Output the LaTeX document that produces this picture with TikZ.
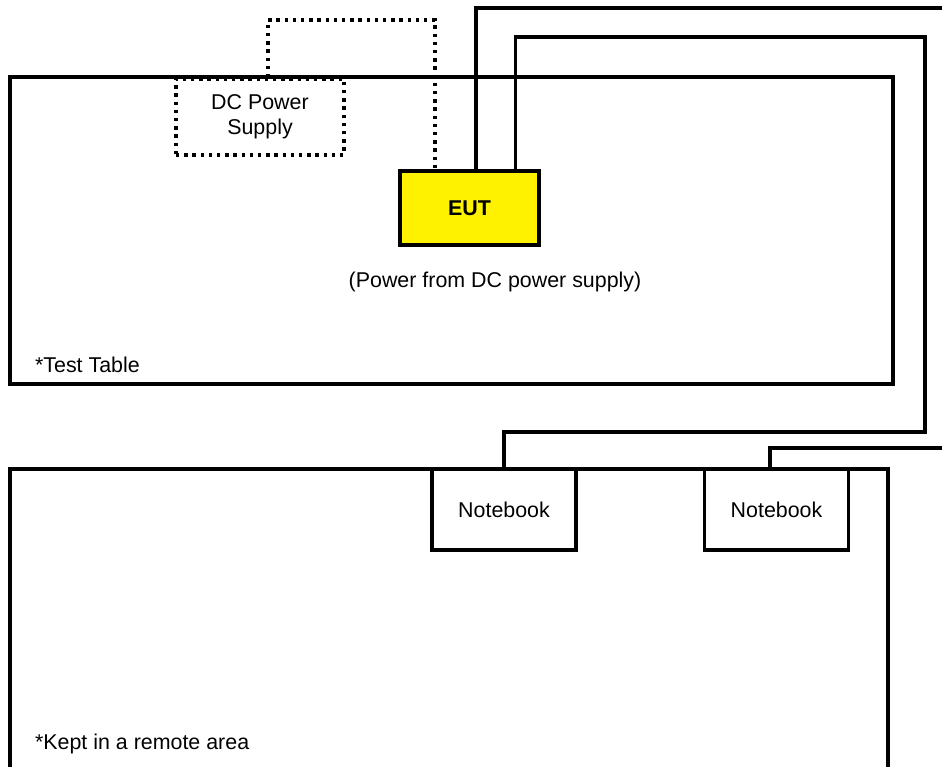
\documentclass[tikz,border=0pt]{standalone}
\usepackage{fontspec}
\setmainfont{Liberation Sans}
\begin{document}
\begin{tikzpicture}[x=0.5pt,y=-0.5pt,font=\fontsize{10.7}{12.5}\selectfont,box/.style={shape=rectangle,draw=black,line width=1.75pt,inner sep=0pt},boxE/.style={box,fill=yellow,font=\fontsize{10.7}{12.5}\selectfont\bfseries},boxD/.style={box,line width=1.7pt,dash pattern=on 1.7pt off 2.4pt,align=center},cable/.style={line width=1.75pt},cableD/.style={cable,line width=1.7pt,dash pattern=on 1.7pt off 2.4pt}]
\def\wE{69.5pt};
\def\hE{37pt};
\def\wN{72pt};
\def\hN{40.5pt};

\useasboundingbox (0,0) rectangle (942,766);
\clip (0,0) rectangle (942,766);

% tables
\draw[cable] (10,77) rectangle (893,384);
\draw[cable] (10,770) |- (888,469) -- (888,770);
\node[anchor=west] (tt) at (28,365) {*Test Table};
\node[anchor=west] (ra) at (28,744) {*Kept in a remote area};

% equipment
\node[boxE,minimum width=\wE,minimum height=\hE] (EUT) at (469.5,208) {EUT};
\node (pw) at (495,282) {(Power from DC power supply)};
\node[boxD,minimum width=84pt,minimum height=38pt] (DC) at (260,117) {DC Power\\Supply};
\node[box,minimum width=\wN,minimum height=\hN] (NB1) at (504,509.5) {Notebook};
\node[box,minimum width=\wN,minimum height=\hN] (NB2) at (776.5,509.5) {Notebook};

% cables
\coordinate (d1) at (435,20);
\coordinate (a1) at (950,8);
\coordinate (b1) at (925,37);
\coordinate (b2) at (925,432);
\coordinate (c1) at (950,448);
\draw[cableD] ([xshift=4pt]DC.north) |- (d1) -- (d1 |- EUT.north);
\draw[cable] ([xshift=3.25pt]EUT.north) |- (a1);
\draw[cable] ([xshift=23pt]EUT.north) |- (b1) -- (b2) -| (NB1.north);
\draw[cable] ([xshift=-3.25pt]NB2.north) |- (c1);
\end{tikzpicture}
\end{document}
